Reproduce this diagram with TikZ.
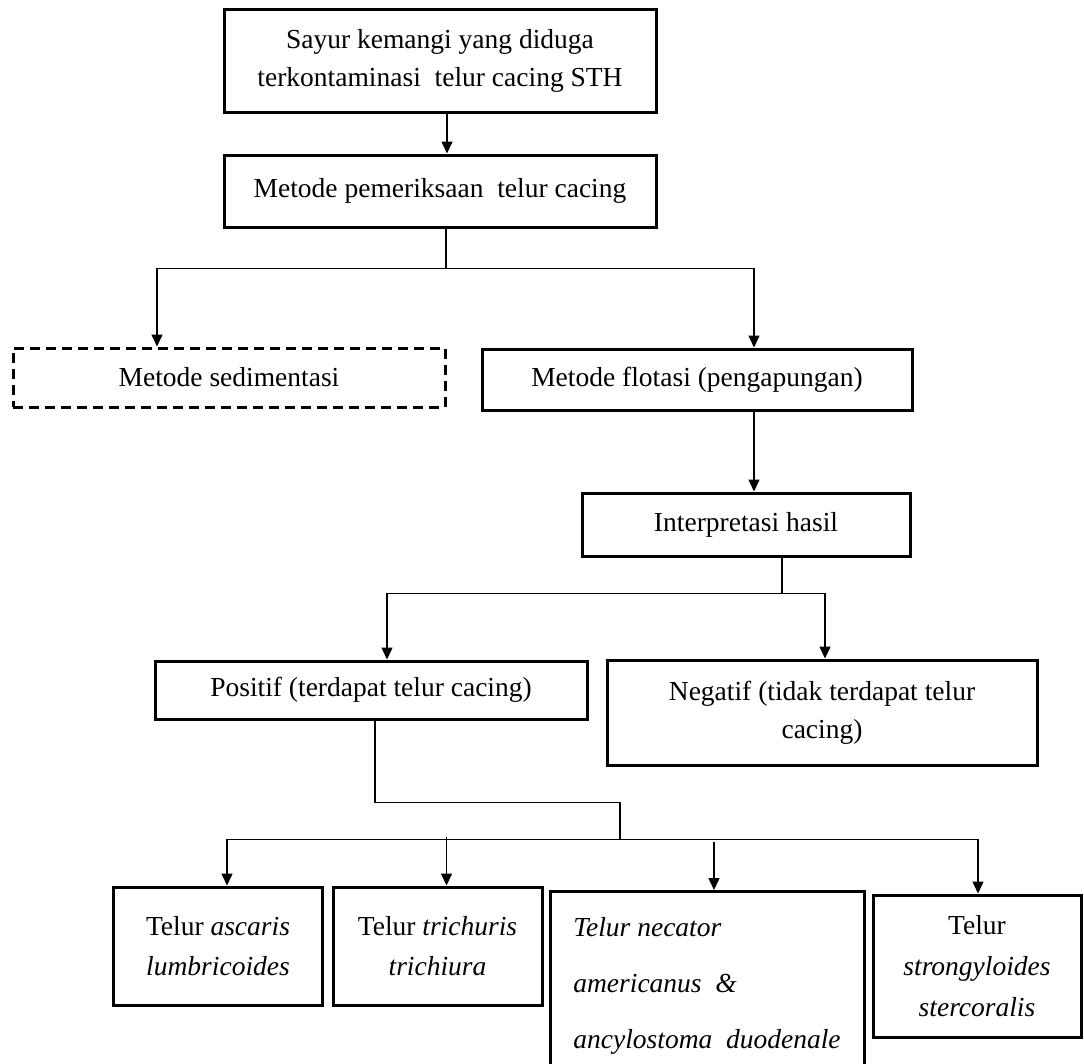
\documentclass[tikz,border=0pt]{standalone}
\usepackage{fontspec}
\setmainfont{Liberation Serif}
\usetikzlibrary{arrows.meta}
\begin{document}
\begin{tikzpicture}[x=1pt,y=-1pt,
  box/.style={draw, line width=3pt, minimum width=#1, inner sep=0pt, align=center,
    font=\fontsize{27.5}{38}\selectfont},
  box/.default=432pt,
  dbox/.style={box, dash pattern=on 10pt off 6pt},
  conn/.style={line width=1.5pt},
  arr/.style={conn, -{Triangle[length=12pt,width=11pt]}}
]
\useasboundingbox (0,0) rectangle (1084,1063);
\clip (0,0) rectangle (1084,1063);

% nodes
\node[box, minimum height=103pt] (b1) at (440,60.5)
  {Sayur kemangi yang diduga\\terkontaminasi\ \ telur cacing STH};
\node[box, minimum height=72pt] (b2) at (440,191)
  {Metode pemeriksaan\ \ telur cacing};
\node[dbox, minimum height=59pt] (sed) at (229,377.5) {Metode sedimentasi};
\node[box=430pt, minimum height=61pt] (flo) at (697,379.5) {Metode flotasi (pengapungan)};
\node[box=328pt, minimum height=63pt] (int) at (746,524.5) {Interpretasi hasil};
\node[box, minimum height=58pt] (pos) at (371,690) {Positif (terdapat telur cacing)};
\node[box=430pt, minimum height=105pt] (neg) at (822,712.5)
  {Negatif (tidak terdapat telur\\cacing)};
\node[box=209pt, minimum height=118pt, font=\fontsize{27.5}{40}\selectfont] (ta) at (218,946)
  {Telur \textit{ascaris}\\\textit{lumbricoides}};
\node[box=209pt, minimum height=118pt, font=\fontsize{27.5}{40}\selectfont] (tb) at (437.5,946)
  {Telur \textit{trichuris}\\\textit{trichiura}};
\node[box=314pt, anchor=north, align=left, inner ysep=26pt,
  font=\itshape\fontsize{27.5}{56}\selectfont] (tc) at (707,890)
  {Telur necator\\americanus\ \ \&\\ancylostoma\ \ duodenale};
\node[box=208pt, minimum height=142pt, font=\fontsize{27.5}{41}\selectfont] (td) at (977,966)
  {Telur\\\textit{strongyloides}\\\textit{stercoralis}};

% connectors
\draw[arr] ([xshift=7pt]b1.south) -- ([xshift=7pt]b2.north);
\draw[conn] ([xshift=6pt]b2.south) -- ++(0,40) coordinate (j1);
\draw[arr] (j1) -| ([xshift=-72pt]sed.north);
\draw[arr] (j1) -| ([xshift=57pt]flo.north);
\draw[arr] ([xshift=57pt]flo.south) -- ([xshift=8pt]int.north);
\draw[conn] ([xshift=36pt]int.south) -- ++(0,36) coordinate (j2);
\draw[arr] (j2) -| ([xshift=16pt]pos.north);
\draw[arr] (j2) -| ([xshift=3pt]neg.north);
\draw[conn] ([xshift=4pt]pos.south) -- ++(0,82) -- ++(245,0) -- ++(0,37) coordinate (j3);
\draw[arr] (j3) -| ([xshift=9pt]ta.north);
\draw[arr] (j3) -| ([xshift=1pt]td.north);
\draw[arr] ([xshift=9pt,yshift=49pt]tb.north) -- ([xshift=9pt]tb.north);
\draw[arr] ([xshift=7pt,yshift=48pt]tc.north) -- ([xshift=7pt]tc.north);
\end{tikzpicture}
\end{document}
